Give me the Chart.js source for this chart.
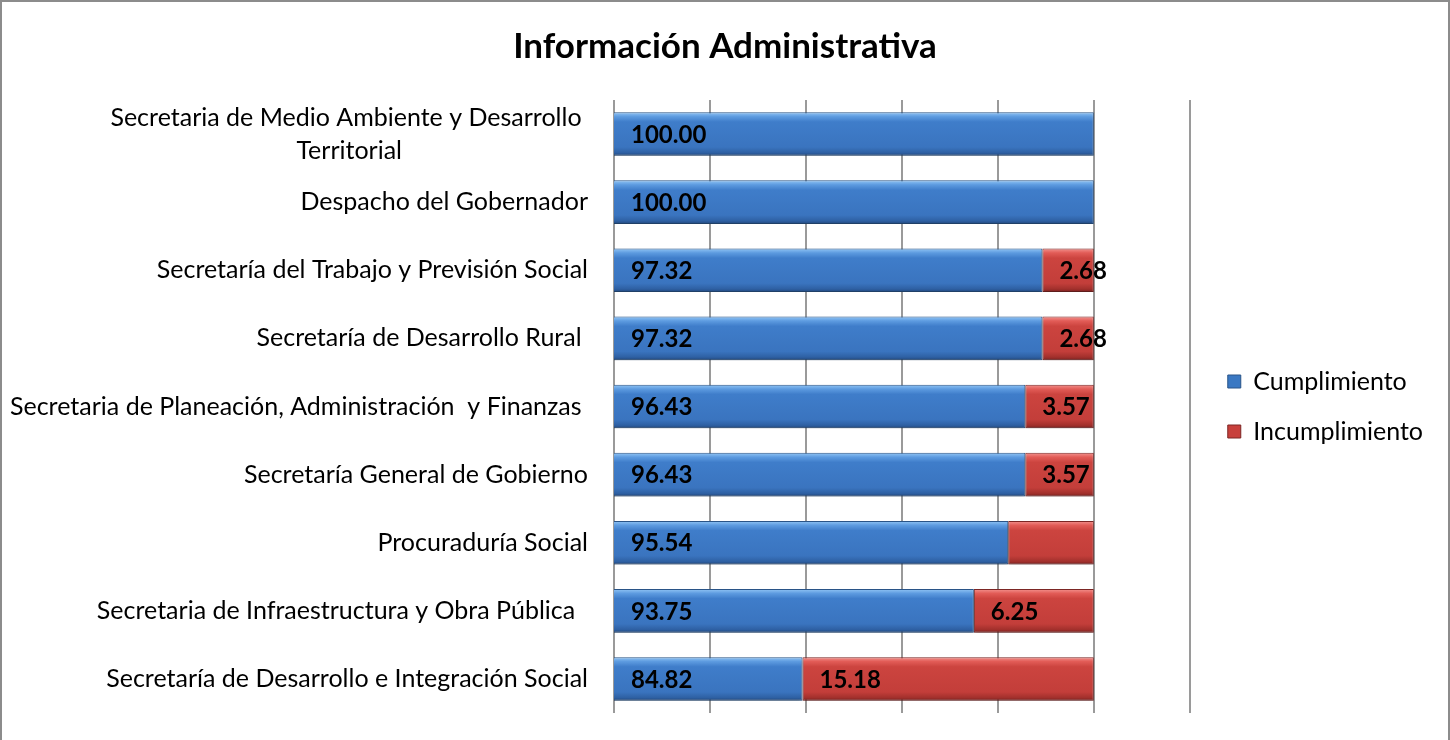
<!DOCTYPE html>
<html>
<head>
<meta charset="utf-8">
<title>Información Administrativa</title>
<script src="https://cdn.jsdelivr.net/npm/chart.js@4.4.1/dist/chart.umd.min.js"></script>
<style>
    html, body { margin: 0; padding: 0; background: #fff; }
    #frame { width: 1446px; height: 738px; border: 2px solid #8c8c8c; border-bottom: none; }
    canvas { display: block; }
</style>
</head>
<body>
<div id="frame"><canvas id="adminChart" width="1446" height="738"></canvas></div>
<script>
const categories = [
    ['Secretaria de Medio Ambiente y Desarrollo ', 'Territorial'],
    'Despacho del Gobernador',
    'Secretaría del Trabajo y Previsión Social',
    'Secretaría de Desarrollo Rural ',
    'Secretaria de Planeación, Administración  y Finanzas ',
    'Secretaría General de Gobierno',
    'Procuraduría Social',
    'Secretaria de Infraestructura y Obra Pública  ',
    'Secretaría de Desarrollo e Integración Social'
];
const cumplimiento = [100.00, 100.00, 97.32, 97.32, 96.43, 96.43, 95.54, 93.75, 84.82];
const incumplimiento = [0, 0, 2.68, 2.68, 3.57, 3.57, 4.46, 6.25, 15.18];
// the reference shows no label on the Procuraduría red segment
const incumplimientoShown = [false, false, true, true, true, true, false, true, true];
const xTicks = [75, 80, 85, 90, 95, 100, 105];

const FONT = 'Lato';
const BAR_PCT = 0.64;

const blueStops = [[0, '#93c6f5'], [0.1, '#5d9be0'], [0.22, '#3f7dca'], [0.8, '#3a74bf'], [0.93, '#2e60a3'], [1, '#22477a']];
const redStops = [[0, '#f39490'], [0.1, '#e25c57'], [0.22, '#cc443f'], [0.8, '#c33e3a'], [0.93, '#a2302c'], [1, '#782120']];

function barFill(stops, flat) {
    return function (ctx) {
        const chart = ctx.chart;
        const y = chart.scales.y;
        if (!chart.chartArea || !y || ctx.type !== 'data') return flat;
        const c = y.getPixelForValue(ctx.dataIndex);
        const h = y.height / categories.length * BAR_PCT;
        const g = chart.ctx.createLinearGradient(0, c - h / 2, 0, c + h / 2);
        stops.forEach(s => g.addColorStop(s[0], s[1]));
        return g;
    };
}

// soft shadow under the bars
const barShadow = {
    id: 'barShadow',
    beforeDatasetsDraw(chart) {
        const ctx = chart.ctx;
        ctx.save();
        ctx.shadowColor = 'rgba(0,0,0,0.28)';
        ctx.shadowBlur = 4;
        ctx.shadowOffsetY = 3;
    },
    afterDatasetsDraw(chart) {
        chart.ctx.restore();
    }
};

const valueLabels = {
    id: 'valueLabels',
    afterDatasetsDraw(chart) {
        const ctx = chart.ctx;
        const left = chart.chartArea.left;
        ctx.save();
        ctx.font = 'bold 24px ' + FONT;
        ctx.fillStyle = '#000';
        ctx.textAlign = 'left';
        ctx.textBaseline = 'middle';
        chart.data.datasets.forEach((ds, di) => {
            chart.getDatasetMeta(di).data.forEach((bar, i) => {
                if (!ds.data[i]) return;
                if (di === 1 && !incumplimientoShown[i]) return;
                const start = Math.max(left, Math.min(bar.x, bar.base));
                ctx.fillText(ds.data[i].toFixed(2), start + 17, bar.y + 1);
            });
        });
        ctx.restore();
    }
};

// category names, right aligned, wrapped lines centred on each other like Excel
const categoryLabels = {
    id: 'categoryLabels',
    afterDraw(chart) {
        const ctx = chart.ctx;
        const y = chart.scales.y;
        const right = chart.chartArea.left - 26;
        ctx.save();
        ctx.font = '25px ' + FONT;
        ctx.fillStyle = '#000';
        ctx.textAlign = 'center';
        ctx.textBaseline = 'middle';
        categories.forEach((label, i) => {
            const lines = [].concat(label);
            const w = Math.max(...lines.map(l => ctx.measureText(l).width));
            const cy = y.getPixelForValue(i);
            lines.forEach((l, k) => {
                ctx.fillText(l, right - w / 2, cy + (k - (lines.length - 1) / 2) * 33);
            });
        });
        ctx.restore();
    }
};

function drawChart() {
    const canvas = document.getElementById('adminChart');

    new Chart(canvas.getContext('2d'), {
        type: 'bar',
        data: {
            labels: categories,
            datasets: [{
                label: 'Cumplimiento',
                data: cumplimiento,
                backgroundColor: barFill(blueStops, '#3a78c3'),
                borderColor: '#2a5589',
                borderWidth: 1,
                borderSkipped: false
            }, {
                label: 'Incumplimiento',
                data: incumplimiento,
                backgroundColor: barFill(redStops, '#c8403c'),
                borderColor: '#7d2624',
                borderWidth: 1,
                borderSkipped: false
            }]
        },
        options: {
            indexAxis: 'y',
            responsive: false,
            animation: false,
            layout: { padding: { top: 8, left: 15, right: 15, bottom: 27 } },
            datasets: { bar: { categoryPercentage: 1, barPercentage: BAR_PCT } },
            scales: {
                x: {
                    stacked: true,
                    min: xTicks[0],
                    max: xTicks[xTicks.length - 1],
                    afterBuildTicks(scale) { scale.ticks = xTicks.map(v => ({ value: v })); },
                    ticks: { display: false },
                    grid: { color: '#9a9a9a', lineWidth: 2, drawTicks: false },
                    border: { display: false }
                },
                y: {
                    stacked: true,
                    ticks: { display: false },
                    grid: { display: false, drawTicks: false },
                    border: { display: false },
                    afterFit(scale) { scale.width = 597; }
                },
                spacer: {
                    type: 'linear',
                    position: 'right',
                    ticks: { display: false },
                    grid: { display: false, drawTicks: false },
                    border: { display: false },
                    afterFit(scale) { scale.width = 13; }
                }
            },
            plugins: {
                title: {
                    display: true,
                    text: 'Información Administrativa',
                    color: '#000',
                    font: { family: FONT, size: 35, weight: 'bold' },
                    padding: { top: 16, bottom: 32 }
                },
                legend: {
                    position: 'right',
                    fullSize: false,
                    labels: {
                        color: '#000',
                        font: { family: FONT, size: 25 },
                        boxWidth: 13,
                        boxHeight: 13,
                        padding: 25,
                        generateLabels(chart) {
                            const items = Chart.defaults.plugins.legend.labels.generateLabels(chart);
                            const fills = ['#3a78c3', '#c8403c'];
                            const edges = ['#2a5589', '#7d2624'];
                            items.forEach((it, i) => {
                                it.fillStyle = fills[i];
                                it.strokeStyle = edges[i];
                                it.lineWidth = 1;
                            });
                            return items;
                        }
                    }
                },
                tooltip: { enabled: false }
            }
        },
        plugins: [barShadow, valueLabels, categoryLabels]
    });
}

Promise.all([
    document.fonts.load('25px ' + FONT),
    document.fonts.load('bold 25px ' + FONT)
]).then(drawChart, drawChart);
</script>
</body>
</html>
